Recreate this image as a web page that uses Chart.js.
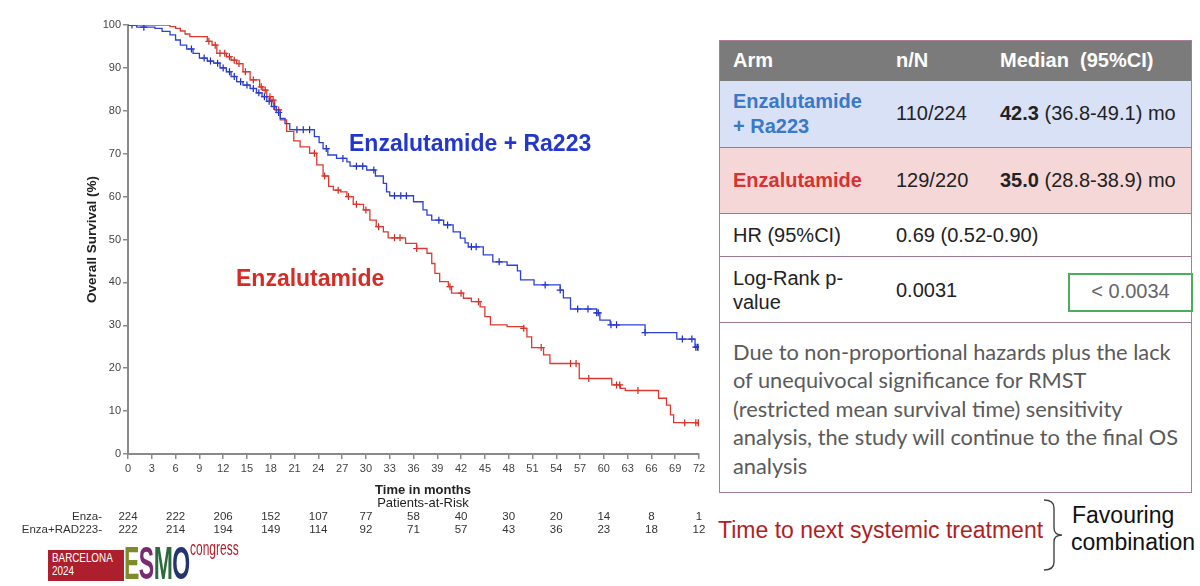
<!DOCTYPE html>
<html>
<head>
<meta charset="utf-8">
<title>Overall survival - Enzalutamide vs Enzalutamide + Ra223</title>
<script src="https://cdn.jsdelivr.net/npm/chart.js@4.4.0/dist/chart.umd.min.js"></script>
<style>
body { margin: 0; width: 1200px; height: 586px; overflow: hidden; background: #fff; position: relative;
       font-family: "Liberation Sans", Arial, sans-serif; }
#km { position: absolute; left: 0; top: 0; }
.t { position: absolute; white-space: nowrap; line-height: 24px; font-size: 20px; color: #222; }
.lbl { position: absolute; white-space: nowrap; font-weight: bold; font-size: 23px; line-height: 28px; }
#box { position: absolute; left: 719px; top: 40px; width: 471px; height: 451px; border: 1.5px solid #a67e9c; }
.row { position: absolute; left: 0; width: 471px; }
.sep { position: absolute; left: 0; width: 471px; height: 0; border-top: 1.5px solid #9c7a94; }
#pbox { position: absolute; left: 1068px; top: 273px; width: 121px; height: 35px; border: 2px solid #4cae5c; }
.para { position: absolute; left: 733px; top: 338px; font-family: Lato, "Open Sans", sans-serif; font-size: 21.8px;
        line-height: 28.4px; color: #5a5a5a; white-space: nowrap; }
#logo { position: absolute; left: 48px; top: 540px; width: 200px; height: 42px; }
.narrow { font-family: "Liberation Sans Narrow", "Liberation Sans", sans-serif; transform-origin: left top; white-space: nowrap; position: absolute; }
</style>
</head>
<body>
<canvas id="km" width="715" height="586"></canvas>

<div class="lbl" style="left:349px; top:129px; color:#2337cc;">Enzalutamide + Ra223</div>
<div class="lbl" style="left:236px; top:264px; color:#d42d28;">Enzalutamide</div>

<!-- results table -->
<div id="box">
  <div class="row" style="top:0; height:40px; background:#7b7b7b;"></div>
  <div class="row" style="top:40px; height:66px; background:#d9e1f7;"></div>
  <div class="row" style="top:107px; height:66px; background:#f5d7d7;"></div>
  <div class="sep" style="top:106px;"></div>
  <div class="sep" style="top:172px;"></div>
  <div class="sep" style="top:215px;"></div>
  <div class="sep" style="top:281px;"></div>
</div>
<div class="t" style="left:733px; top:48px; color:#fff; font-weight:bold;">Arm</div>
<div class="t" style="left:896px; top:48px; color:#fff; font-weight:bold;">n/N</div>
<div class="t" style="left:1000px; top:48px; color:#fff; font-weight:bold;">Median&nbsp;&nbsp;(95%CI)</div>

<div class="t" style="left:733px; top:89px; color:#3a78c8; font-weight:bold;">Enzalutamide</div>
<div class="t" style="left:733px; top:114px; color:#3a78c8; font-weight:bold;">+ Ra223</div>
<div class="t" style="left:896px; top:101px;">110/224</div>
<div class="t" style="left:1000px; top:101px;"><b>42.3</b> (36.8-49.1) mo</div>

<div class="t" style="left:733px; top:168px; color:#d63232; font-weight:bold;">Enzalutamide</div>
<div class="t" style="left:896px; top:168px;">129/220</div>
<div class="t" style="left:1000px; top:168px;"><b>35.0</b> (28.8-38.9) mo</div>

<div class="t" style="left:733px; top:223px;">HR (95%CI)</div>
<div class="t" style="left:896px; top:223px;">0.69 (0.52-0.90)</div>

<div class="t" style="left:733px; top:266px;">Log-Rank p-</div>
<div class="t" style="left:733px; top:290px;">value</div>
<div class="t" style="left:896px; top:278px;">0.0031</div>
<div id="pbox"></div>
<div class="t" style="left:1068px; width:125px; text-align:center; top:279px; color:#666;">&lt; 0.0034</div>

<div class="para">Due to non-proportional hazards plus the lack<br>of unequivocal significance for RMST<br>(restricted mean survival time) sensitivity<br>analysis, the study will continue to the final OS<br>analysis</div>

<div class="t" style="left:718px; top:516px; font-size:23px; line-height:28px; color:#b21e1e;">Time to next systemic treatment</div>
<svg style="position:absolute; left:1038px; top:498px;" width="30" height="76">
  <path d="M6,2 Q16,2 16,10 L16,30 Q16,37 24,37 Q16,37 16,44 L16,64 Q16,72 6,72" fill="none" stroke="#444" stroke-width="1.4"/>
</svg>
<div class="t" style="left:1072px; top:501px; font-size:23px; line-height:28px; color:#111;">Favouring</div>
<div class="t" style="left:1071px; top:528px; font-size:23px; line-height:28px; color:#111;">combination</div>

<!-- congress logo -->
<div id="logo">
  <div style="position:absolute; left:0; top:10px; width:76px; height:31px; background:#ad1f2d;"></div>
  <div class="narrow" style="left:4px; top:12px; color:#fff; font-size:12px; line-height:13px; transform:scaleX(0.82);">BARCELONA<br>2024</div>
  <div class="narrow" style="left:76px; top:0px; height:42px; font-weight:bold; font-size:46px; line-height:46px; transform:scaleX(0.5); letter-spacing:-1px;">
    <span style="color:#7f8a2a;">E</span><span style="color:#7a2a6e;">S</span><span style="color:#2c6a3e;">M</span><span style="color:#23346e;">O</span>
  </div>
  <div class="narrow" style="left:142px; top:-2px; color:#ad1f2d; font-size:20px; line-height:20px; transform:scaleX(0.6);">congress</div>
</div>

<script>
// Kaplan-Meier curves (time in months, survival %)
const comboTimes = [0, 1.1, 3.4, 4.3, 5.3, 6.0, 6.6, 7.4, 8.2, 9.0, 10.0, 10.8, 11.6, 12.4, 13.0, 13.7, 14.5, 15.4, 16.2, 16.9,
  17.5, 18.1, 18.7, 19.2, 19.8, 20.4, 23.5, 24.1, 24.6, 25.2, 26.3, 27.6, 28.0, 30.1, 31.2, 32.2, 32.6, 33.0, 36.0, 37.2,
  37.7, 38.3, 39.8, 41.0, 41.9, 42.5, 42.9, 44.8, 46.0, 47.8, 49.1, 49.5, 51.2, 54.5, 54.9, 55.8, 59.1, 59.5, 60.8, 65.2,
  69.2, 71.5];
const comboSurv = [100, 99.5, 99.2, 98.5, 97.7, 96.5, 95.3, 94.4, 93.4, 92.3, 91.6, 91.1, 90.0, 89.1, 88.0, 86.8, 86.0, 85.2, 84.2, 83.3,
  82.2, 81.0, 79.6, 78.2, 77.0, 75.6, 74.0, 72.6, 71.2, 69.7, 68.9, 68.1, 67.1, 66.2, 64.8, 63.1, 61.1, 60.2, 58.8, 56.9,
  55.7, 54.5, 53.4, 51.8, 50.3, 49.2, 48.3, 46.4, 44.8, 44.0, 42.7, 40.6, 39.4, 38.2, 36.4, 33.8, 32.9, 31.2, 30.1, 28.3,
  26.8, 24.9];
const comboCensor = [0.5, 2.0, 8.0, 9.6, 10.4, 11.3, 12.0, 12.8, 13.4, 14.2, 15.0, 15.8, 16.5, 17.2, 17.8, 18.4, 19.0, 21.3, 22.1, 22.9,
  25.0, 27.1, 28.8, 29.6, 31.0, 33.6, 34.4, 35.1, 39.2, 40.3, 43.3, 43.9, 46.8, 52.6, 54.5, 56.7, 58.0, 59.1, 59.3, 60.9,
  61.6, 65.2, 69.9, 71.1, 71.6, 71.8, 72];

const enzaTimes = [0, 5.3, 6.0, 6.6, 7.2, 7.8, 10.0, 10.6, 11.2, 12.4, 13.0, 13.7, 14.5, 15.4, 16.6, 17.0, 17.5, 18.0, 18.5, 19.2,
  20.0, 20.9, 21.7, 22.9, 23.8, 24.6, 25.3, 25.9, 26.8, 27.6, 28.4, 29.7, 30.5, 31.3, 32.2, 32.8, 35.0, 36.4, 37.7, 38.3,
  38.7, 39.3, 40.4, 40.8, 42.3, 43.3, 44.4, 45.0, 45.7, 47.8, 49.9, 50.3, 50.9, 52.4, 53.2, 56.9, 61.0, 62.1, 62.7, 66.9,
  67.9, 68.4, 68.8];
const enzaSurv = [100, 99.6, 99.2, 98.6, 97.9, 97.3, 96.2, 95.3, 93.4, 92.6, 91.8, 91.0, 89.1, 87.2, 85.6, 84.8, 83.3, 82.5, 80.2, 77.9,
  75.2, 73.0, 71.6, 70.1, 67.4, 64.8, 62.4, 61.5, 61.1, 60.0, 58.2, 56.9, 54.5, 53.0, 51.8, 50.4, 49.1, 47.9, 46.8, 44.4,
  42.1, 40.2, 39.0, 37.5, 36.3, 35.5, 34.3, 32.0, 30.1, 29.7, 29.3, 27.3, 24.8, 23.1, 21.1, 17.6, 16.1, 15.3, 14.8, 13.0,
  11.4, 9.1, 7.3];
const enzaCensor = [10.2, 11.0, 11.6, 12.2, 12.8, 13.4, 14.0, 14.8, 15.8, 16.8, 17.3, 17.9, 18.3, 19.0, 23.5, 24.8, 26.5, 27.8, 28.8, 30.0,
  31.6, 33.6, 34.3, 36.4, 40.6, 42.0, 44.2, 49.9, 52.1, 55.8, 56.5, 58.1, 61.6, 62.0, 64.3, 70.2, 71.6, 71.9, 72];

const followUpEnd = 72;

// axis ticks
const xTicks = [0, 3, 6, 9, 12, 15, 18, 21, 24, 27, 30, 33, 36, 39, 42, 45, 48, 51, 54, 57, 60, 63, 66, 69, 72];
const yTicks = [0, 10, 20, 30, 40, 50, 60, 70, 80, 90, 100];

// patients at risk
const riskTimes = [0, 6, 12, 18, 24, 30, 36, 42, 48, 54, 60, 66, 72];
const riskEnza = [224, 222, 206, 152, 107, 77, 58, 40, 30, 20, 14, 8, 1];
const riskCombo = [222, 214, 194, 149, 114, 92, 71, 57, 43, 36, 23, 18, 12];

const blue = 'rgb(45, 65, 215)';
const red = 'rgb(220, 58, 48)';

function survivalAt(times, surv, t) {
    let s = surv[0];
    for (let i = 0; i < times.length; i++) {
        if (times[i] <= t) s = surv[i];
    }
    return s;
}

function curve(times, surv) {
    const pts = times.map((t, i) => ({ x: t, y: surv[i] }));
    pts.push({ x: followUpEnd, y: surv[surv.length - 1] });
    return pts;
}

function censorPoints(censor, times, surv) {
    return censor.map(t => ({ x: t, y: survivalAt(times, surv, t) }));
}

const riskTable = {
    id: 'riskTable',
    afterDraw(chart) {
        const { ctx, scales: { x, y } } = chart;
        ctx.save();
        ctx.fillStyle = '#222';
        ctx.textAlign = 'center';
        ctx.textBaseline = 'middle';
        ctx.font = 'bold 13px "Liberation Sans", Arial, sans-serif';
        ctx.fillText('Time in months', 423, 490);
        ctx.font = '13px "Liberation Sans", Arial, sans-serif';
        ctx.fillText('Patients-at-Risk', 423, 503);

        ctx.font = '11.5px "Liberation Sans", Arial, sans-serif';
        ctx.fillStyle = '#333';
        riskTimes.forEach((t, i) => {
            const px = x.getPixelForValue(t);
            ctx.fillText(riskEnza[i], px, 517);
            ctx.fillText(riskCombo[i], px, 530);
        });
        ctx.textAlign = 'right';
        ctx.fillText('Enza-', 102, 517);
        ctx.fillText('Enza+RAD223-', 102, 530);

        // y axis title
        ctx.translate(92, (y.top + y.bottom) / 2);
        ctx.rotate(-Math.PI / 2);
        ctx.textAlign = 'center';
        ctx.fillStyle = '#222';
        ctx.font = 'bold 13.5px "Liberation Sans", Arial, sans-serif';
        ctx.fillText('Overall Survival (%)', 0, 0);
        ctx.restore();
    }
};

const ctx = document.getElementById('km').getContext('2d');
const kmChart = new Chart(ctx, {
    type: 'scatter',
    data: {
        datasets: [
            {
                label: 'Enzalutamide + Ra223',
                data: curve(comboTimes, comboSurv),
                showLine: true,
                stepped: true,
                borderColor: blue,
                borderWidth: 1.3,
                pointRadius: 0
            },
            {
                label: 'Enzalutamide + Ra223 censored',
                data: censorPoints(comboCensor, comboTimes, comboSurv),
                showLine: false,
                pointStyle: 'cross',
                pointRadius: 3.5,
                borderColor: 'rgb(30, 40, 190)',
                borderWidth: 1.2
            },
            {
                label: 'Enzalutamide',
                data: curve(enzaTimes, enzaSurv),
                showLine: true,
                stepped: true,
                borderColor: red,
                borderWidth: 1.3,
                pointRadius: 0
            },
            {
                label: 'Enzalutamide censored',
                data: censorPoints(enzaCensor, enzaTimes, enzaSurv),
                showLine: false,
                pointStyle: 'cross',
                pointRadius: 3.5,
                borderColor: 'rgb(205, 40, 35)',
                borderWidth: 1.2
            }
        ]
    },
    options: {
        responsive: false,
        animation: false,
        layout: { padding: { left: 0, top: 25, right: 16, bottom: 98 } },
        plugins: {
            legend: { display: false },
            tooltip: { enabled: false }
        },
        scales: {
            x: {
                type: 'linear',
                min: 0,
                max: 72,
                afterBuildTicks: (axis) => { axis.ticks = xTicks.map(v => ({ value: v })); },
                afterFit: (axis) => { axis.height = 34; },
                ticks: { color: '#444', font: { size: 11, family: '"Liberation Sans", Arial, sans-serif' }, padding: 3, maxRotation: 0, autoSkip: false },
                grid: { drawOnChartArea: false, tickLength: 5, color: '#8a8a8a', lineWidth: 1.5 },
                border: { display: true, color: '#8a8a8a', width: 2 }
            },
            y: {
                min: 0,
                max: 100,
                afterBuildTicks: (axis) => { axis.ticks = yTicks.map(v => ({ value: v })); },
                afterFit: (axis) => { axis.width = 128; },
                ticks: { color: '#444', font: { size: 11, family: '"Liberation Sans", Arial, sans-serif' }, padding: 2 },
                grid: { drawOnChartArea: false, tickLength: 5, color: '#8a8a8a', lineWidth: 1.5 },
                border: { display: true, color: '#8a8a8a', width: 2 }
            }
        }
    },
    plugins: [riskTable]
});
</script>
</body>
</html>
